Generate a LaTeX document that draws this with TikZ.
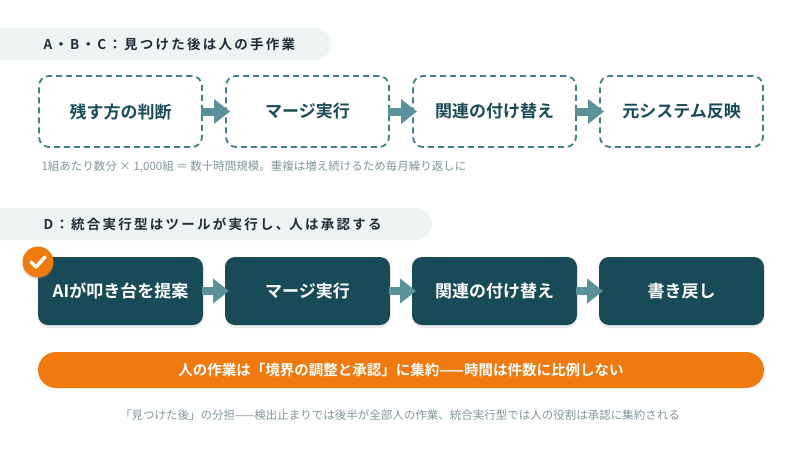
\documentclass[tikz,border=0pt]{standalone}
\usepackage{fontspec}
\setmainfont{Noto Sans CJK JP}[BoldFont={Noto Sans CJK JP Bold}]
\usetikzlibrary{arrows.meta,positioning,shadows}
\definecolor{pillgray}{HTML}{EEF3F3}
\definecolor{inkdark}{HTML}{1F2D3A}
\definecolor{tealline}{HTML}{3E7F88}
\definecolor{tealdark}{HTML}{174B57}
\definecolor{notegray}{HTML}{7F959A}
\definecolor{orangebar}{HTML}{F07A0E}
\tikzset{step box/.style={rectangle,rounded corners=10pt,minimum width=165pt,minimum height=72pt,inner sep=0pt,outer sep=0pt,font=\bfseries\fontsize{17}{19}\selectfont},
         manual box/.style={step box,draw=tealline,line width=1.8pt,dash pattern=on 6pt off 4pt,fill=white,text=tealdark,minimum width=163pt,minimum height=71pt},
         tool box/.style={step box,fill=tealdark,text=white,minimum height=68pt,drop shadow={opacity=0.15,shadow xshift=0pt,shadow yshift=-3pt}},
         step arrow/.style={-{Triangle[length=16pt,width=24pt]},line width=8pt,draw=tealline!85,shorten <=-1pt,shorten >=-4pt},
         head text/.style={anchor=west,text=inkdark,font=\bfseries\fontsize{13.5}{15}\selectfont},
         note text/.style={text=notegray,font=\fontsize{11.5}{13}\selectfont},
}
\begin{document}
\begin{tikzpicture}[x=1pt,y=-1pt]
\useasboundingbox (0,0) rectangle (800,451);

% A B C: manual work
\fill[pillgray,rounded corners=16pt] (-20,28) rectangle (331,60);
\node[head text] (h1) at (40,44) {A\,・\,B\,・\,C\,：\,見\,つ\,け\,た\,後\,は\,人\,の\,手\,作\,業};

\node[manual box] (m1) at (120.5,111.5) {残す方の判断};
\node[manual box, right=24pt of m1] (m2) {マージ実行};
\node[manual box, right=24pt of m2] (m3) {関連の付け替え};
\node[manual box, right=24pt of m3] (m4) {元システム反映};
\draw[step arrow] (m1.east) -- (m2.west);
\draw[step arrow] (m2.east) -- (m3.west);
\draw[step arrow] (m3.east) -- (m4.west);

\node[note text, anchor=west] (n1) at (38,167) {1組あたり数分 × 1,000組 ＝ 数十時間規模。重複は増え続けるため毎月繰り返しに};

% D: tool executes
\fill[pillgray,rounded corners=16pt] (-20,208) rectangle (432,240);
\node[head text] (h2) at (40,224) {D\,：\,統\,合\,実\,行\,型\,は\,ツ\,ー\,ル\,が\,実\,行\,し\,、人\,は\,承\,認\,す\,る};

\node[tool box] (d1) at (120.5,291) {AIが叩き台を提案};
\node[tool box, right=22pt of d1] (d2) {マージ実行};
\node[tool box, right=22pt of d2] (d3) {関連の付け替え};
\node[tool box, right=22pt of d3] (d4) {書き戻し};
\draw[step arrow] (d1.east) -- (d2.west);
\draw[step arrow] (d2.east) -- (d3.west);
\draw[step arrow] (d3.east) -- (d4.west);

\node[circle,fill=orangebar,minimum size=31pt,inner sep=0pt,drop shadow={opacity=0.2,shadow xshift=0pt,shadow yshift=-2pt}] (ok) at (38,262) {};
\draw[white,line width=3.5pt,line cap=round,line join=round] ([shift={(-7,0)}]ok.center) -- ([shift={(-2,5)}]ok.center) -- ([shift={(7,-5)}]ok.center);

\node[rectangle,rounded corners=18pt,fill=orangebar,minimum width=726pt,minimum height=36pt,text=white,font=\bfseries\fontsize{14.5}{16}\selectfont] (bar) at (401,370) {人の作業は「境界の調整と承認」に集約——時間は件数に比例しない};

\node[note text] (n2) at (400,415) {「見つけた後」の分担——検出止まりでは後半が全部人の作業、統合実行型では人の役割は承認に集約される};
\end{tikzpicture}
\end{document}
